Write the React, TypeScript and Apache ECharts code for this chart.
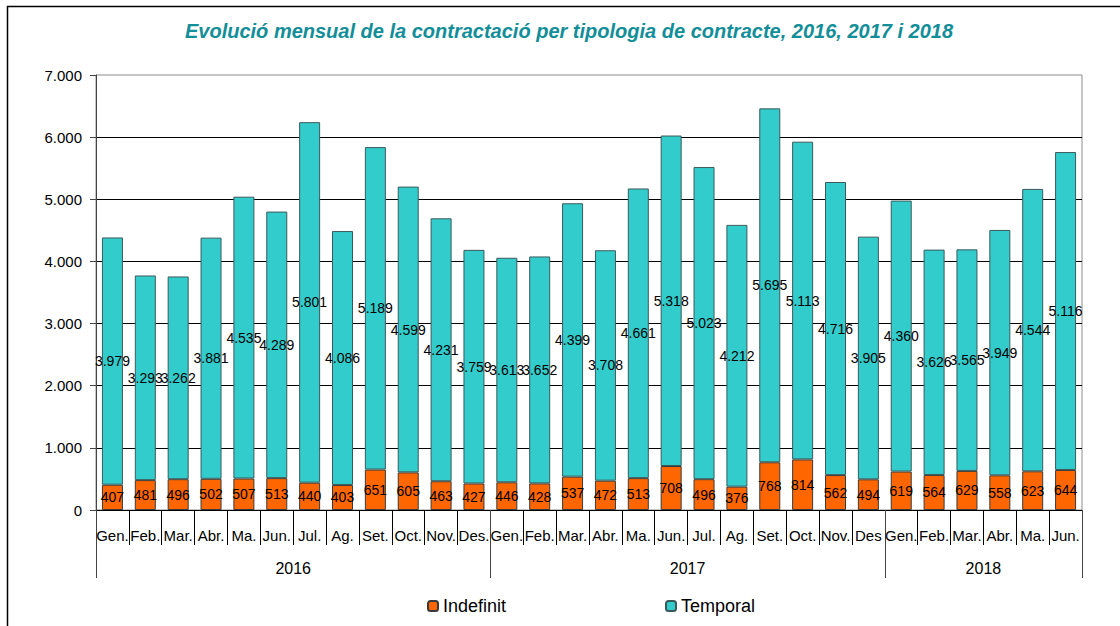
import React, { useEffect, useRef } from "react";
import * as echarts from "echarts";

const months = [
  "Gen.", "Feb.", "Mar.", "Abr.", "Ma.", "Jun.", "Jul.", "Ag.", "Set.", "Oct.", "Nov.", "Des.",
  "Gen.", "Feb.", "Mar.", "Abr.", "Ma.", "Jun.", "Jul.", "Ag.", "Set.", "Oct.", "Nov.", "Des",
  "Gen.", "Feb.", "Mar.", "Abr.", "Ma.", "Jun.",
];
const years = ["2016", "2017", "2018"];
const yearStarts = [0, 12, 24, 30];
const indefinit = [
  407, 481, 496, 502, 507, 513, 440, 403, 651, 605, 463, 427,
  446, 428, 537, 472, 513, 708, 496, 376, 768, 814, 562, 494,
  619, 564, 629, 558, 623, 644,
];
const temporal = [
  3979, 3293, 3262, 3881, 4535, 4289, 5801, 4086, 5189, 4599, 4231, 3759,
  3613, 3652, 4399, 3708, 4661, 5318, 5023, 4212, 5695, 5113, 4716, 3905,
  4360, 3626, 3565, 3949, 4544, 5116,
];
const title = "Evolució mensual de la contractació per tipologia de contracte, 2016, 2017 i 2018";

const fmt = (v: number) => {
  const s = String(Math.round(v));
  return s.replace(/\B(?=(\d{3})+(?!\d))/g, ".");
};

const FONT = "'Liberation Sans', Arial, sans-serif";

export default function App() {
  const ref = useRef<HTMLDivElement>(null);
  useEffect(() => {
    if (!ref.current) return;
    const chart = echarts.init(ref.current, undefined, { renderer: "svg" });
    const yearAxisData: string[] = [];
    for (let i = 0; i <= months.length; i++) yearAxisData.push("");
    for (let k = 0; k < years.length; k++) {
      const mid = Math.round((yearStarts[k] + yearStarts[k + 1]) / 2);
      yearAxisData[mid] = years[k];
    }
    const labelStyle = {
      show: true,
      position: "inside",
      color: "#000",
      fontSize: 14,
      fontFamily: FONT,
      formatter: (p: any) => fmt(p.value),
    };
    const legendText = { fontSize: 18, color: "#000", fontFamily: FONT };
    chart.setOption({
      animation: false,
      textStyle: { fontFamily: FONT },
      grid: {
        left: 96,
        right: 38,
        top: 75,
        bottom: 116,
        show: true,
        borderColor: "#8c8c8c",
        borderWidth: 1,
        backgroundColor: "#fff",
      },
      graphic: [
        {
          type: "line",
          shape: { x1: 7, y1: 6.5, x2: 1120, y2: 6.5 },
          style: { stroke: "#000", lineWidth: 1.5 },
        },
        {
          type: "line",
          shape: { x1: 7.5, y1: 6, x2: 7.5, y2: 626 },
          style: { stroke: "#000", lineWidth: 1.5 },
        },
        {
          type: "text",
          x: 569,
          y: 31,
          style: {
            text: title,
            textAlign: "center",
            textVerticalAlign: "middle",
            fontSize: 20,
            fontWeight: "bold",
            fontStyle: "italic",
            fontFamily: FONT,
            fill: "#128e99",
          },
        },
      ],
      legend: [
        {
          data: ["Indefinit"],
          left: 427,
          top: 597,
          itemWidth: 10,
          itemHeight: 10,
          itemGap: 0,
          textStyle: legendText,
          padding: 0,
        },
        {
          data: ["Temporal"],
          left: 665,
          top: 597,
          itemWidth: 10,
          itemHeight: 10,
          itemGap: 0,
          textStyle: legendText,
          padding: 0,
        },
      ],
      xAxis: [
        {
          type: "category",
          data: months,
          boundaryGap: true,
          axisLine: { show: true, lineStyle: { color: "#000", width: 1 } },
          axisTick: { show: true, length: 35, interval: 0, lineStyle: { color: "#000" } },
          axisLabel: {
            interval: 0,
            margin: 18,
            fontSize: 15,
            color: "#000",
            fontFamily: FONT,
            hideOverlap: false,
          },
          splitLine: { show: false },
        },
        {
          type: "category",
          data: yearAxisData,
          boundaryGap: false,
          position: "bottom",
          axisLine: { show: false },
          axisTick: {
            show: true,
            length: 68,
            interval: (i: number) => yearStarts.indexOf(i) >= 0,
            lineStyle: { color: "#444" },
          },
          axisLabel: {
            interval: 0,
            margin: 50,
            fontSize: 16,
            color: "#000",
            fontFamily: FONT,
          },
          splitLine: { show: false },
        },
      ],
      yAxis: {
        type: "value",
        min: 0,
        max: 7000,
        interval: 1000,
        axisLine: { show: true, lineStyle: { color: "#444" } },
        axisTick: { show: true, length: 6, lineStyle: { color: "#444" } },
        axisLabel: {
          margin: 14,
          fontSize: 15,
          color: "#000",
          fontFamily: FONT,
          formatter: (v: number) => fmt(v),
        },
        splitLine: {
          show: true,
          showMaxLine: false,
          lineStyle: { color: "#000", width: 1 },
        },
      },
      series: [
        {
          name: "Indefinit",
          type: "bar",
          stack: "total",
          data: indefinit,
          barWidth: 21,
          itemStyle: { color: "#ff6600", borderColor: "#3a3a3a", borderWidth: 1 },
          label: labelStyle,
        },
        {
          name: "Temporal",
          type: "bar",
          stack: "total",
          data: temporal,
          barWidth: 21,
          itemStyle: { color: "#33cccc", borderColor: "#3a5a5a", borderWidth: 1 },
          label: labelStyle,
        },
      ],
    });
    return () => chart.dispose();
  }, []);
  return (
    <div
      ref={ref}
      style={{ position: "absolute", left: 0, top: 0, width: 1120, height: 626, background: "#fff" }}
    />
  );
}
